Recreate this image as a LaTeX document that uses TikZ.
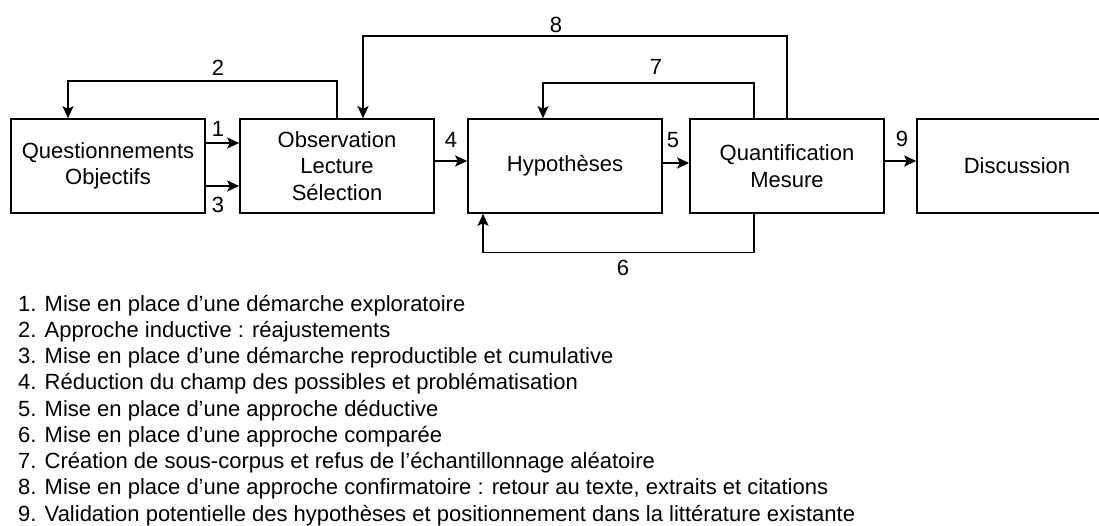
\documentclass[tikz,border=0pt]{standalone}
\usepackage{fontspec}
\setmainfont{Liberation Sans}
\usetikzlibrary{arrows.meta}
\begin{document}
\begin{tikzpicture}[x=1pt,y=-1pt,
  box/.style={draw, line width=1.6pt, minimum width=194pt, minimum height=94pt, inner sep=0pt, align=center, font=\fontsize{22}{26.4}\selectfont},
  conn/.style={line width=1.6pt, -{Stealth[length=12pt,width=11pt,inset=2.5pt]}},
  lbl/.style={font=\fontsize{22}{26.4}\selectfont, inner sep=0pt},
  leg/.style={font=\fontsize{22}{26}\selectfont, inner sep=0pt, anchor=base west}]
\useasboundingbox (0,0) rectangle (1099,526);
\clip (0,0) rectangle (1099,526);
% boxes
\node[box] (q) at (108,166) {Questionnements\\Objectifs};
\node[box] (o) at (337,166) {Observation\\Lecture\\Sélection};
\node[box] (h) at (565,166) {Hypothèses};
\node[box] (m) at (787,166) {Quantification\\Mesure};
\node[box, minimum width=200pt] (d) at (1017,166) {Discussion};
% bend points
\coordinate (k2) at (68,81);
\coordinate (k8) at (363,36);
\coordinate (k7) at (543,83);
\coordinate (k6) at (483,252.5);
\coordinate (x76) at (754,0);
% connectors
\draw[conn] (q.east |- 0,143) -- (o.west |- 0,143);
\draw[conn] (q.east |- 0,186) -- (o.west |- 0,186);
\draw[conn] (o.north) |- (k2) -- (q.north -| k2);
\draw[conn] (m.north) |- (k8) -- (o.north -| k8);
\draw[conn] (m.north -| x76) |- (k7) -- (h.north -| k7);
\draw[conn] (m.south -| x76) |- (k6) -- (h.south -| k6);
\draw[conn] (o.east |- 0,161) -- (h.west |- 0,161);
\draw[conn] (h.east |- 0,163) -- (m.west |- 0,163);
\draw[conn] (m.east |- 0,161) -- (d.west |- 0,161);
% connector labels
\node[lbl] (l1) at (218,129) {1};
\node[lbl] (l2) at (218,68) {2};
\node[lbl] (l3) at (218,205) {3};
\node[lbl] (l4) at (451,140) {4};
\node[lbl] (l5) at (673,140) {5};
\node[lbl] (l6) at (623,268) {6};
\node[lbl] (l7) at (656,67) {7};
\node[lbl] (l8) at (556,25) {8};
\node[lbl] (l9) at (902,139) {9};
% legend
\node[leg] (t1) at (18,311) {1. Mise en place d’une démarche exploratoire};
\node[leg] (t2) at (18,337.25) {2. Approche inductive : réajustements};
\node[leg] (t3) at (18,363.5) {3. Mise en place d’une démarche reproductible et cumulative};
\node[leg] (t4) at (18,389.75) {4. Réduction du champ des possibles et problématisation};
\node[leg] (t5) at (18,416) {5. Mise en place d’une approche déductive};
\node[leg] (t6) at (18,442.25) {6. Mise en place d’une approche comparée};
\node[leg] (t7) at (18,468.5) {7. Création de sous-corpus et refus de l’échantillonnage aléatoire};
\node[leg] (t8) at (18,494.75) {8. Mise en place d’une approche confirmatoire : retour au texte, extraits et citations};
\node[leg] (t9) at (18,521) {9. Validation potentielle des hypothèses et positionnement dans la littérature existante};
\end{tikzpicture}
\end{document}
